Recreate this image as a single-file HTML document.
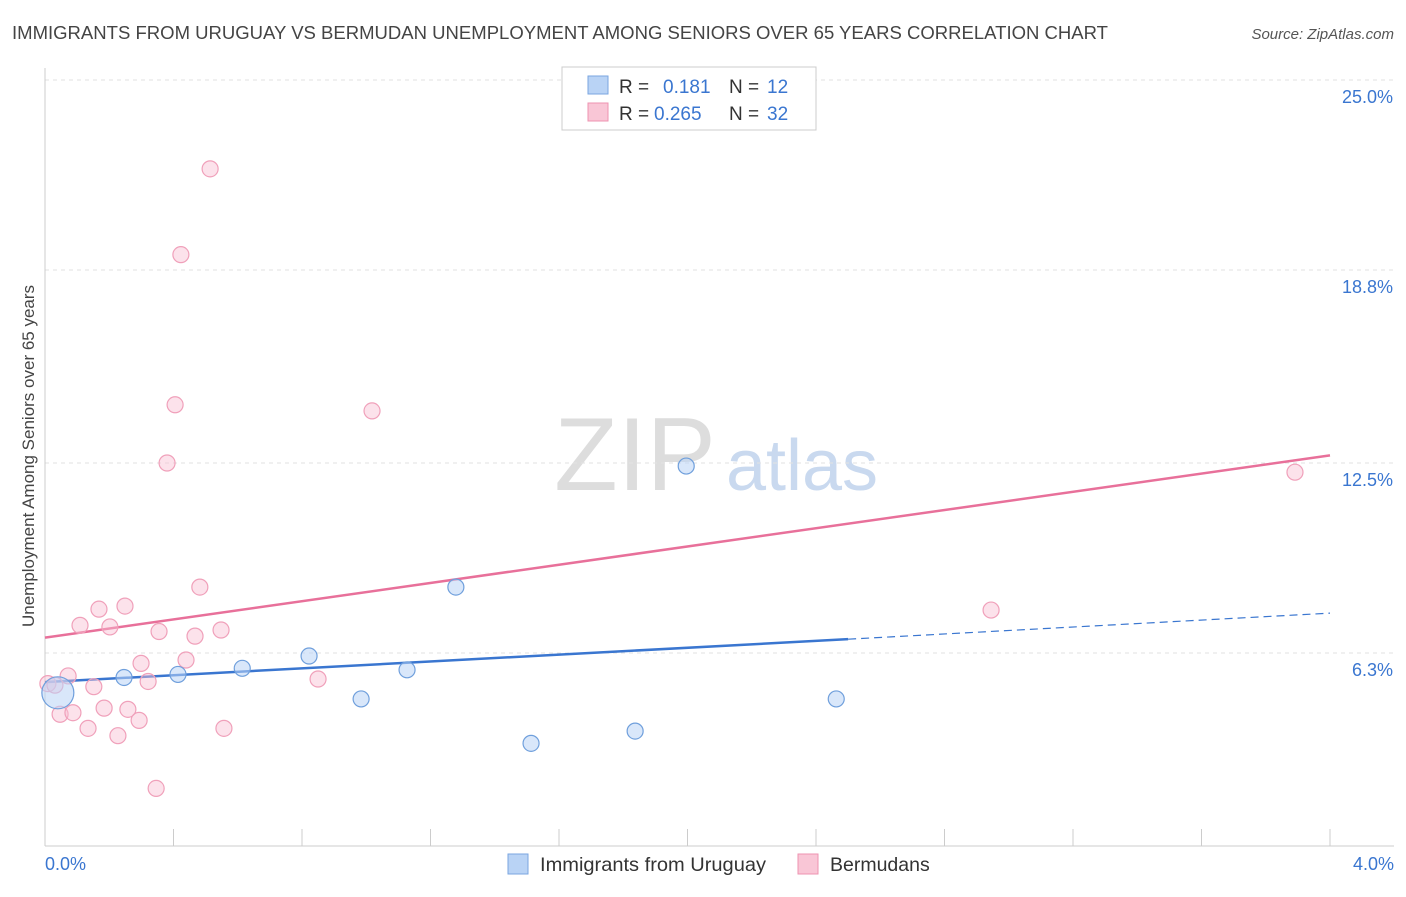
<!DOCTYPE html>
<html><head><meta charset="utf-8"><style>
body{margin:0;background:#fff;font-family:"Liberation Sans",sans-serif;}
svg text{font-family:"Liberation Sans",sans-serif;}
</style></head><body>
<svg id="chart" width="1406" height="892" xmlns="http://www.w3.org/2000/svg">
<text x="12" y="39" font-size="18" fill="#444" textLength="1096" lengthAdjust="spacingAndGlyphs">IMMIGRANTS FROM URUGUAY VS BERMUDAN UNEMPLOYMENT AMONG SENIORS OVER 65 YEARS CORRELATION CHART</text>
<text x="1394" y="39" font-size="15" fill="#555" text-anchor="end" font-style="italic">Source: ZipAtlas.com</text>
<text transform="translate(34,456) rotate(-90)" font-size="17" fill="#444" text-anchor="middle">Unemployment Among Seniors over 65 years</text>
<g>
<text x="635" y="490" font-size="104" fill="#ddd" font-family="Liberation Serif" text-anchor="middle">ZIP</text>
<text x="802" y="490" font-size="72" fill="#c9d9ef" text-anchor="middle">atlas</text>
</g>
<g id="grid"></g><g id="axes"></g><g id="lines"></g><g id="pts"></g>
<g>
<rect x="562" y="67" width="254" height="63" fill="#fff" stroke="#ccc"/>
<rect x="588" y="76" width="20" height="18" fill="#b9d3f5" stroke="#7aa6e0"/>
<text x="619" y="93" font-size="19" fill="#333">R = </text><text x="663" y="93" font-size="19" fill="#3a76d0">0.181</text>
<text x="729" y="93" font-size="19" fill="#333">N = </text><text x="767" y="93" font-size="19" fill="#3a76d0">12</text>
<rect x="588" y="103" width="20" height="18" fill="#f9c6d6" stroke="#ee93b0"/>
<text x="619" y="120" font-size="19" fill="#333">R = </text><text x="654" y="120" font-size="19" fill="#3a76d0">0.265</text>
<text x="729" y="120" font-size="19" fill="#333">N = </text><text x="767" y="120" font-size="19" fill="#3a76d0">32</text>
</g>
<g>
<rect x="508" y="854" width="20" height="20" fill="#b9d3f5" stroke="#7aa6e0"/>
<text x="540" y="871" font-size="19.5" fill="#333" textLength="226" lengthAdjust="spacingAndGlyphs">Immigrants from Uruguay</text>
<rect x="798" y="854" width="20" height="20" fill="#f9c6d6" stroke="#ee93b0"/>
<text x="830" y="871" font-size="19.5" fill="#333">Bermudans</text>
</g>
</svg>
<script>
const blueX=[0.04,0.246,0.414,0.614,0.822,0.984,1.127,1.279,1.513,1.837,1.996,2.463];
const blueY=[5.0,5.5,5.6,5.8,6.2,4.8,5.75,8.45,3.35,3.75,12.4,4.8];
const pinkX=[0.009,0.031,0.072,0.047,0.087,0.109,0.134,0.152,0.168,0.184,0.202,0.227,0.249,0.258,0.293,0.299,0.321,0.346,0.355,0.380,0.405,0.423,0.439,0.467,0.482,0.514,0.548,0.557,0.850,1.018,2.945,3.891];
const pinkY=[5.3,5.25,5.55,4.3,4.35,7.2,3.84,5.2,7.73,4.5,7.15,3.6,7.83,4.46,4.1,5.96,5.37,1.88,7.0,12.5,14.4,19.3,6.07,6.85,8.45,22.1,7.05,3.84,5.45,14.2,7.7,12.2];
const yTicks=[6.3,12.5,18.8,25.0];
const pinkFit=[6.8,12.75];
const blueFit=[5.35,6.75,7.6];
const X=v=>45+v*321.25, Y=v=>846-v*30.64;
const ns="http://www.w3.org/2000/svg";
function mk(t,a,p){const e=document.createElementNS(ns,t);for(const k in a)e.setAttribute(k,a[k]);document.getElementById(p).appendChild(e);return e;}
yTicks.forEach(t=>{
 const l=mk('line',{x1:45,x2:1394,y1:Y(t),y2:Y(t),stroke:'#e2e2e2','stroke-dasharray':'4,4'},'grid');
 
 
 const tx=mk('text',{x:1393,y:Y(t)+23,'font-size':18,fill:'#3a76d0','text-anchor':'end'},'grid');
 tx.textContent=t.toFixed(1)+'%';
 
 
});
mk('line',{x1:45,x2:45,y1:68,y2:846,stroke:'#ccc'},'axes');
mk('line',{x1:45,x2:1394,y1:846,y2:846,stroke:'#ccc'},'axes');
for(let i=1;i<=10;i++){mk('line',{x1:X(i*0.4),x2:X(i*0.4),y1:829,y2:846,stroke:'#ccc'},'axes');}
let t0=mk('text',{x:45,y:870,'font-size':18,fill:'#3a76d0'},'axes');t0.textContent='0.0%';


let t1=mk('text',{x:1394,y:870,'font-size':18,fill:'#3a76d0','text-anchor':'end'},'axes');t1.textContent='4.0%';


const pl=mk('line',{x1:X(0),y1:Y(pinkFit[0]),x2:X(4),y2:Y(pinkFit[1]),stroke:'#e8709a','stroke-width':2.5},'lines');


const bl=mk('line',{x1:X(0),y1:Y(blueFit[0]),x2:X(2.5),y2:Y(blueFit[1]),stroke:'#3a76d0','stroke-width':2.5},'lines');


const bd=mk('line',{x1:X(2.5),y1:Y(blueFit[1]),x2:X(4),y2:Y(blueFit[2]),stroke:'#3a76d0','stroke-width':1.2,'stroke-dasharray':'8,5'},'lines');


pinkX.forEach((x,i)=>{const c=mk('circle',{cx:X(x),cy:Y(pinkY[i]),r:8,fill:'rgba(249,190,210,0.45)',stroke:'#f0a0ba','stroke-width':1.2},'pts');
 
 });
blueX.forEach((x,i)=>{const c=mk('circle',{cx:X(x),cy:Y(blueY[i]),r:i==0?16:8,fill:'rgba(185,211,245,0.55)',stroke:'#6f9fdc','stroke-width':1.2},'pts');
 
 });
</script>
</body></html>
